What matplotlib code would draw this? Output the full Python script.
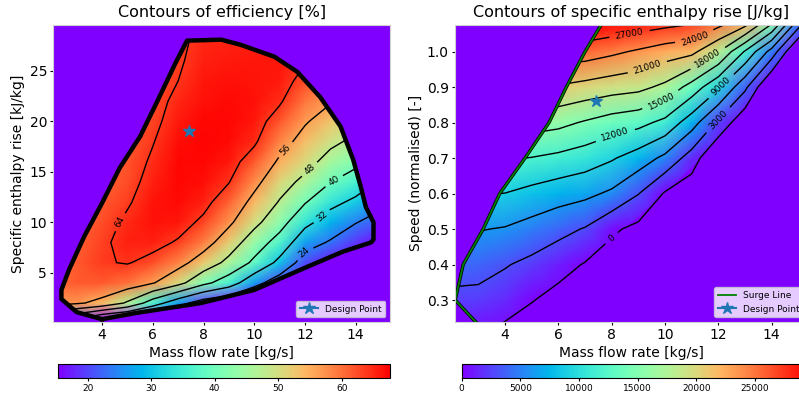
import matplotlib
import matplotlib.pyplot as plt
import numpy as np
from matplotlib.colors import Normalize
from matplotlib.patches import Polygon

matplotlib.use("Agg")

# ---------------- left map: efficiency [%] ----------------
# grid: rows = enthalpy rise [kJ/kg], columns = mass flow [kg/s]
EFF_MFLOW = [2, 3, 4, 5, 6, 7, 8, 9, 10, 11, 12, 13, 14, 15]
EFF_DH = [0, 2, 4, 6, 8, 10, 12, 14, 16, 18, 20, 22, 24, 26, 28]
EFF = [
    [40, 25, 15, 12, 10, 9, 8, 7, 6, 5, 4, 3, 3, 3],
    [58, 57, 54, 47, 36, 27, 20, 17, 14, 10, 9, 7, 6, 5],
    [60, 61.5, 61.5, 60, 56.5, 50.5, 42, 36, 26.5, 20, 16, 11, 9, 8],
    [60, 61.5, 63.6, 64.3, 62.5, 58.5, 52.5, 46, 38.5, 30, 20.5, 17, 13, 11],
    [60, 61, 63.2, 65.5, 65.5, 63.5, 59, 52, 44, 37, 27, 23.3, 19, 16],
    [60, 60.5, 62.3, 64.8, 66.5, 66, 63, 57.3, 50, 43, 34, 28.5, 24.3, 21],
    [60, 60.5, 61.5, 63.5, 66.3, 66.8, 65.5, 61, 54, 47.5, 40.5, 34, 30.5, 26],
    [60, 60.5, 61, 62.5, 65.5, 67, 66.6, 64.2, 58, 51, 46.2, 40.2, 36, 31],
    [60, 60.5, 61, 62, 64.6, 67, 67, 66, 61.5, 55, 50.5, 45.5, 42, 36.5],
    [60, 60.5, 61, 61.5, 63.8, 66.6, 67.2, 66.8, 64.8, 58.5, 53.7, 49.5, 46.5, 42],
    [60, 60.5, 61, 61.5, 63, 65.8, 67, 67, 66, 61.8, 56.6, 53, 50, 46],
    [60, 60.5, 61, 61.5, 62.5, 65.0, 66.5, 66.8, 66.5, 64.6, 59.5, 56.5, 53, 50],
    [60, 60.5, 61, 61.5, 62, 64.0, 66, 66.4, 66.3, 65.8, 62.5, 59, 56, 53],
    [60, 60.5, 61, 61.5, 62, 63.5, 65.5, 65.8, 66, 66, 64.3, 61, 58, 55],
    [60, 60.5, 61, 61.5, 62, 63.2, 65, 65.3, 65.5, 66, 65, 62, 60, 57],
]
EFF_RANGE = (15.4, 67.6)
EFF_LEVELS = [24, 32, 40, 48, 56, 64]

# outline of the operating region [kg/s], [kJ/kg]
BOUND_MFLOW = [4.0, 3.0, 2.4, 2.4, 2.7, 3.3, 4.0, 4.7, 5.5, 6.2, 6.9, 7.35,
               8.7, 9.45, 10.8, 11.7, 12.6, 13.4, 13.9, 14.2, 14.4, 14.7,
               14.7, 14.6, 13.5, 12.1, 10.0, 7.9, 5.3, 4.0]
BOUND_DH = [0.4, 1.1, 2.4, 3.3, 5.3, 8.6, 11.9, 15.4, 18.5, 22.1, 25.8, 28.0,
            28.1, 27.6, 26.4, 24.9, 22.4, 19.5, 16.2, 13.5, 11.5, 10.0,
            8.3, 8.0, 7.1, 5.6, 3.3, 2.0, 1.0, 0.4]

# ---------------- right map: specific enthalpy rise [J/kg] ----------------
DH_MFLOW = [2, 3, 4, 5, 6, 7, 8, 9, 10, 11, 12, 13, 14, 15, 16]
DH_SPEED = [0.2, 0.3, 0.4, 0.5, 0.6, 0.7, 0.8, 0.9, 1.0, 1.08]
DH = [
    [1000, 200, -1000, -1800, -2500, -3000, -3500, -4000, -4500, -5000, -5500, -6000, -6500, -7000, -7500],
    [2350, 2300, 1500, 150, -1000, -2000, -2800, -3500, -4000, -4500, -5000, -5500, -6000, -6500, -7000],
    [4100, 3900, 3200, 2300, 1100, -200, -1500, -2500, -3500, -4200, -5000, -5500, -6000, -6500, -7000],
    [6200, 6150, 5800, 4900, 3900, 2800, 500, -800, -2000, -3000, -4000, -5000, -5500, -6000, -6500],
    [9300, 9200, 8950, 8100, 7300, 6700, 5500, 3100, -300, -2000, -3500, -4500, -5500, -6000, -6500],
    [12500, 12400, 12300, 11900, 11300, 10500, 9300, 7600, 5300, 1600, -3500, -5000, -6000, -6500, -7000],
    [16500, 16400, 16400, 16300, 15800, 14700, 13600, 12900, 11200, 7300, 2400, -2500, -5000, -6500, -7000],
    [20900, 20900, 20800, 20800, 20700, 20000, 19300, 18800, 17300, 13800, 9500, 3700, -4000, -6000, -7000],
    [25700, 25700, 25600, 25600, 25600, 25500, 24600, 23600, 22500, 21800, 18100, 11700, 4800, -4000, -8000],
    [30000, 30000, 29900, 29900, 29800, 29700, 29200, 28600, 27900, 27200, 25000, 22200, 15300, 4500, -5000],
]
DH_RANGE = (0, 29500)
DH_LEVELS = [0, 3000, 6000, 9000, 12000, 15000, 18000, 21000, 24000, 27000]

SURGE_MFLOW = [3.4, 2.88, 2.13, 2.43, 3.18, 3.8, 4.75, 5.65, 6.3, 7.0, 7.56, 7.65]
SURGE_SPEED = [0.2, 0.24, 0.30, 0.40, 0.50, 0.60, 0.70, 0.80, 0.90, 1.00, 1.07, 1.08]
# right-hand edge of the mapped region (choke side)
CHOKE_MFLOW = [3.6, 4.0, 5.15, 6.9, 8.45, 9.95, 11.35, 12.5, 13.52, 14.6, 15.5]
CHOKE_SPEED = [0.2, 0.24, 0.30, 0.40, 0.50, 0.60, 0.70, 0.80, 0.90, 1.00, 1.08]

DESIGN_MFLOW = 7.42
DESIGN_DH = 19000
DESIGN_SPEED = 0.86

# where the contour labels sit (level: mass flow, y)
EFF_LABELS = {64: (4.79, 9.9), 56: (11.14, 17.4), 48: (12.28, 15.0),
              40: (13.12, 14.2), 32: (12.66, 10.6), 24: (12.04, 6.85)}
DH_LABELS = {27000: (8.69, 1.041), 24000: (11.1, 1.04), 21000: (9.35, 0.953),
             18000: (11.62, 0.979), 15000: (9.8, 0.873), 12000: (8.15, 0.76),
             9000: (12.2, 0.895), 3000: (12.0, 0.807), 0: (8.0, 0.474)}


def draw_contours(ax, x, y, z, levels, label_pos, clip):
    # one contour set per level, so each label lands on its own line
    for lvl in levels:
        cs = ax.contour(x, y, z, levels=[lvl], colors="black", linewidths=1.0)
        cs.set_clip_path(clip)
        if lvl in label_pos:
            cs.clabel(inline=True, fontsize=6.5, fmt="%d", manual=[label_pos[lvl]])


def style_axes(ax):
    for spine in ax.spines.values():
        spine.set_color("#d0d0d0")
        spine.set_linewidth(0.8)
    ax.tick_params(length=2.5, pad=2)


plt.rcParams["font.family"] = "DejaVu Sans"
plt.rcParams["xtick.labelsize"] = 10
plt.rcParams["ytick.labelsize"] = 10
cmap = plt.get_cmap("rainbow")

fig = plt.figure(figsize=(7.99, 3.94), dpi=100)
ax1 = fig.add_axes([0.0667, 0.1835, 0.4214, 0.7530])
ax2 = fig.add_axes([0.5695, 0.1835, 0.4414, 0.7530])
cax1 = fig.add_axes([0.0730, 0.0398, 0.4151, 0.0355])
cax2 = fig.add_axes([0.5779, 0.0398, 0.4330, 0.0355])

# ---- left panel
ax1.set_facecolor(cmap(0.0))
mesh1 = ax1.pcolormesh(EFF_MFLOW, EFF_DH, EFF, shading="gouraud", cmap=cmap,
                       norm=Normalize(*EFF_RANGE))
region = Polygon(np.column_stack([BOUND_MFLOW, BOUND_DH]), closed=True,
                 transform=ax1.transData)
mesh1.set_clip_path(region)
draw_contours(ax1, EFF_MFLOW, EFF_DH, EFF, EFF_LEVELS, EFF_LABELS, region)
ax1.plot(BOUND_MFLOW, BOUND_DH, color="black", linewidth=3.2)
ax1.plot([DESIGN_MFLOW], [DESIGN_DH / 1000], marker="*", markersize=9,
         color="tab:blue", label="Design Point")
ax1.set_xlim(2.08, 15.35)
ax1.set_ylim(0.15, 29.55)
ax1.set_title("Contours of efficiency [%]", fontsize=11.5)
ax1.set_xlabel("Mass flow rate [kg/s]", fontsize=10, labelpad=3)
ax1.set_ylabel("Specific enthalpy rise [kJ/kg]", fontsize=10, labelpad=3)
ax1.legend(loc="lower right", fontsize=6.5)
style_axes(ax1)

cb1 = fig.colorbar(mesh1, cax=cax1, orientation="horizontal")
cb1.ax.tick_params(labelsize=6.5, length=2, pad=2)

# ---- right panel
ax2.set_facecolor(cmap(0.0))
mesh2 = ax2.pcolormesh(DH_MFLOW, DH_SPEED, DH, shading="gouraud", cmap=cmap,
                       norm=Normalize(*DH_RANGE))
surge_pts = list(zip(SURGE_MFLOW, SURGE_SPEED))
choke_pts = list(zip(CHOKE_MFLOW, CHOKE_SPEED))[::-1]
flow_region = Polygon(surge_pts + choke_pts, closed=True, transform=ax2.transData)
surge_side = Polygon(surge_pts + [(DH_MFLOW[-1], DH_SPEED[-1]), (DH_MFLOW[-1], DH_SPEED[0])],
                     closed=True, transform=ax2.transData)
mesh2.set_clip_path(flow_region)
draw_contours(ax2, DH_MFLOW, DH_SPEED, DH, DH_LEVELS, DH_LABELS, surge_side)
ax2.plot(SURGE_MFLOW, SURGE_SPEED, color="black", linewidth=2.4)
ax2.plot(SURGE_MFLOW, SURGE_SPEED, color="green", linewidth=1.3, label="Surge Line")
ax2.plot([DESIGN_MFLOW], [DESIGN_SPEED], marker="*", markersize=9,
         color="tab:blue", label="Design Point")
ax2.set_xlim(2.125, 15.35)
ax2.set_ylim(0.239, 1.075)
ax2.set_title("Contours of specific enthalpy rise [J/kg]", fontsize=11.5)
ax2.set_xlabel("Mass flow rate [kg/s]", fontsize=10, labelpad=3)
ax2.set_ylabel("Speed (normalised) [-]", fontsize=10, labelpad=3)
ax2.legend(loc="lower right", fontsize=6.5)
style_axes(ax2)

cb2 = fig.colorbar(mesh2, cax=cax2, orientation="horizontal")
cb2.ax.tick_params(labelsize=6.5, length=2, pad=2)

fig.savefig("out.png", dpi=100)
plt.close(fig)
